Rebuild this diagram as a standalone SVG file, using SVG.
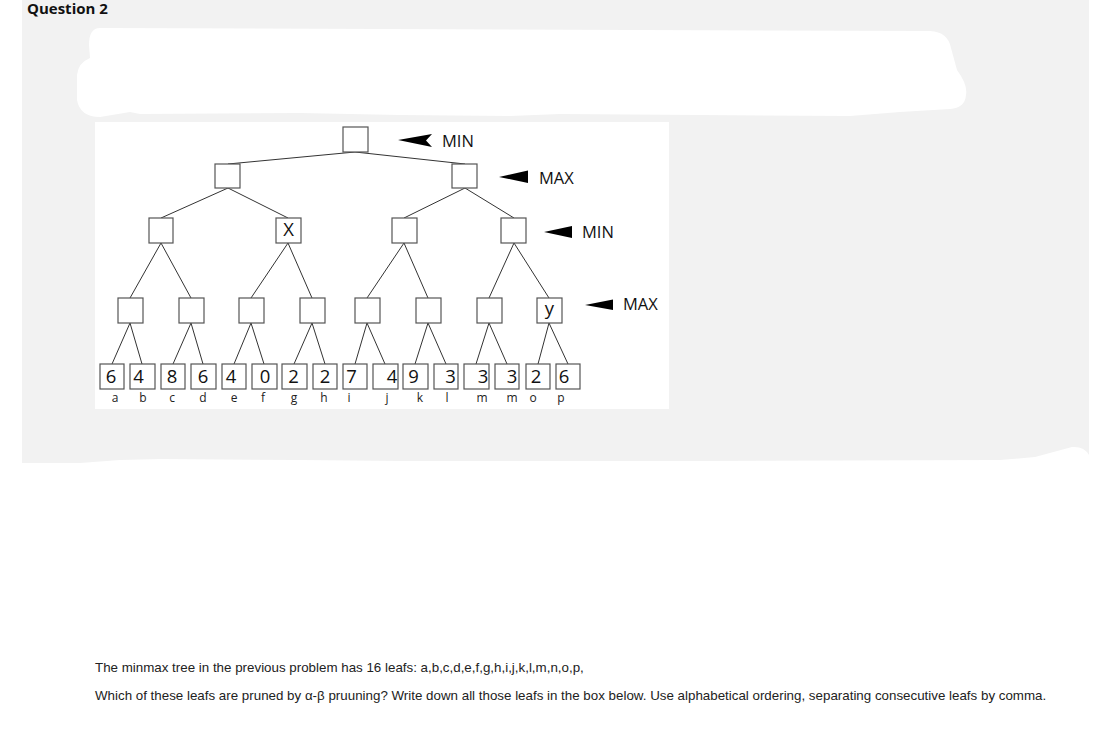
<svg xmlns="http://www.w3.org/2000/svg" width="1114" height="742" viewBox="0 0 1114 742">
<style>
.box{fill:#fff;stroke:#555;stroke-width:1.2}
.ln{stroke:#333;stroke-width:1;fill:none}
.dig{font-family:"Open Sans","Liberation Sans",sans-serif;font-size:18.5px;fill:#111;text-anchor:middle}
.lab{font-family:"Open Sans","Liberation Sans",sans-serif;font-size:12px;fill:#222;text-anchor:middle}
.lvl{font-family:"Open Sans","Liberation Sans",sans-serif;font-size:16.5px;fill:#111}
.arr{fill:#000}
.q{font-family:"Liberation Sans",Arial,sans-serif;font-size:13.35px;fill:#222}
</style>
<rect x="0" y="0" width="1114" height="742" fill="#fff"/>
<path d="M22,0 H1089 V455 Q1084,446 1072,447 L1035,457 L1000,460 L700,461 L400,461 L300,460 L160,459 L120,460 L80,463 L22,463 Z" fill="#f2f2f2"/>
<text x="27" y="14" font-family="'Open Sans','Liberation Sans',sans-serif" font-size="15" font-weight="bold" fill="#111">Question 2</text>
<path d="M100,28 L930,31 Q948,32 951,48 L957,70 Q968,85 966,95 Q965,108 950,109 L900,112 L850,116 L700,115 L560,114 L510,116 L400,115 L300,113 L140,114 L130,112 L100,117 Q80,117 77,100 L77,75 Q78,63 90,58 L89,45 Q89,28 100,28 Z" fill="#fff"/>
<rect x="95" y="122" width="574" height="287" fill="#fff"/>
<g id="connectors">
<path class="ln" d="M355,152 L228,164 M355,152 L465,164"/>
<path class="ln" d="M228,188 L161,218 M228,188 L288,218 M465,188 L404,218 M465,188 L514,218"/>
<path class="ln" d="M161,243 L130,298 M161,243 L191,298 M288,243 L251,298 M288,243 L312,298 M404,243 L367,298 M404,243 L428,298 M514,243 L489,298 M514,243 L549,298"/>
<path class="ln" d="M130,323 L112,364 M130,323 L142,364 M191,323 L173,364 M191,323 L203,364 M251,323 L234,364 M251,323 L264,364 M312,323 L294,364 M312,323 L325,364 M367,323 L355,364 M367,323 L385,364 M428,323 L415,364 M428,323 L446,364 M489,323 L476,364 M489,323 L507,364 M549,323 L538,364 M549,323 L568,364"/>
</g>
<g id="root"><rect class="box" x="343" y="127" width="25" height="25"/></g>
<g id="max-left"><rect class="box" x="215" y="164" width="25" height="24"/></g>
<g id="max-right"><rect class="box" x="452" y="164" width="25" height="24"/></g>
<g id="min-1"><rect class="box" x="149" y="218" width="24" height="25"/></g>
<g id="min-x"><rect class="box" x="276" y="218" width="25" height="25"/><text class="dig" x="288.5" y="236" font-size="14.5px">X</text></g>
<g id="min-3"><rect class="box" x="392" y="218" width="25" height="25"/></g>
<g id="min-4"><rect class="box" x="501" y="218" width="25" height="25"/></g>
<g id="max-1"><rect class="box" x="118" y="298" width="25" height="25"/></g>
<g id="max-2"><rect class="box" x="179" y="298" width="25" height="25"/></g>
<g id="max-3"><rect class="box" x="239" y="298" width="25" height="25"/></g>
<g id="max-4"><rect class="box" x="300" y="298" width="25" height="25"/></g>
<g id="max-5"><rect class="box" x="355" y="298" width="25" height="25"/></g>
<g id="max-6"><rect class="box" x="416" y="298" width="25" height="25"/></g>
<g id="max-7"><rect class="box" x="477" y="298" width="25" height="25"/></g>
<g id="max-y"><rect class="box" x="537" y="298" width="25" height="25"/><text class="dig" x="549.5" y="315" font-size="16px">y</text></g>
<g id="leaf-a"><rect class="box" x="100" y="364" width="24" height="25"/><text class="dig" x="111" y="383">6</text><text class="lab" x="115" y="402">a</text></g>
<g id="leaf-b"><rect class="box" x="130" y="364" width="25" height="25"/><text class="dig" x="138.5" y="383">4</text><text class="lab" x="143" y="402">b</text></g>
<g id="leaf-c"><rect class="box" x="161" y="364" width="24" height="25"/><text class="dig" x="172" y="383">8</text><text class="lab" x="172" y="402">c</text></g>
<g id="leaf-d"><rect class="box" x="191" y="364" width="25" height="25"/><text class="dig" x="203" y="383">6</text><text class="lab" x="203" y="402">d</text></g>
<g id="leaf-e"><rect class="box" x="222" y="364" width="24" height="25"/><text class="dig" x="231" y="383">4</text><text class="lab" x="234" y="402">e</text></g>
<g id="leaf-f"><rect class="box" x="252" y="364" width="25" height="25"/><text class="dig" x="265" y="383">0</text><text class="lab" x="263" y="402">f</text></g>
<g id="leaf-g"><rect class="box" x="282" y="364" width="25" height="25"/><text class="dig" x="293.5" y="383">2</text><text class="lab" x="294" y="402">g</text></g>
<g id="leaf-h"><rect class="box" x="313" y="364" width="24" height="25"/><text class="dig" x="325" y="383">2</text><text class="lab" x="324" y="402">h</text></g>
<g id="leaf-i"><rect class="box" x="343" y="364" width="24" height="25"/><text class="dig" x="351.5" y="383">7</text><text class="lab" x="349" y="402">i</text></g>
<g id="leaf-j"><rect class="box" x="373" y="364" width="25" height="25"/><text class="dig" x="392" y="383">4</text><text class="lab" x="387" y="402">j</text></g>
<g id="leaf-k"><rect class="box" x="403" y="364" width="25" height="25"/><text class="dig" x="413.5" y="383">9</text><text class="lab" x="420" y="402">k</text></g>
<g id="leaf-l"><rect class="box" x="434" y="364" width="24" height="25"/><text class="dig" x="450.5" y="383">3</text><text class="lab" x="447" y="402">l</text></g>
<g id="leaf-m"><rect class="box" x="464" y="364" width="25" height="25"/><text class="dig" x="483" y="383">3</text><text class="lab" x="482" y="402">m</text></g>
<g id="leaf-n"><rect class="box" x="495" y="364" width="24" height="25"/><text class="dig" x="512" y="383">3</text><text class="lab" x="512" y="402">m</text></g>
<g id="leaf-o"><rect class="box" x="526" y="364" width="24" height="25"/><text class="dig" x="536" y="383">2</text><text class="lab" x="533" y="402">o</text></g>
<g id="leaf-p"><rect class="box" x="556" y="364" width="24" height="25"/><text class="dig" x="564" y="383">6</text><text class="lab" x="561" y="402">p</text></g>
<g id="label-min-top"><polygon class="arr" points="398,140 432,134 426,140.5 432,147"/><text class="lvl" x="442" y="147">MIN</text></g>
<g id="label-max-1"><polygon class="arr" points="499,177 528,170.5 528,183"/><text class="lvl" x="539" y="183.5">MAX</text></g>
<g id="label-min-2"><polygon class="arr" points="544,232 572,226 572,238"/><text class="lvl" x="582" y="238">MIN</text></g>
<g id="label-max-2"><polygon class="arr" points="585,305 613,299.5 613,310"/><text class="lvl" x="623" y="309.5">MAX</text></g>
<text class="q" x="95" y="672">The minmax tree in the previous problem has 16 leafs: a,b,c,d,e,f,g,h,i,j,k,l,m,n,o,p,</text>
<text class="q" x="95" y="700">Which of these leafs are pruned by α-β pruuning? Write down all those leafs in the box below. Use alphabetical ordering, separating consecutive leafs by comma.</text>
</svg>
